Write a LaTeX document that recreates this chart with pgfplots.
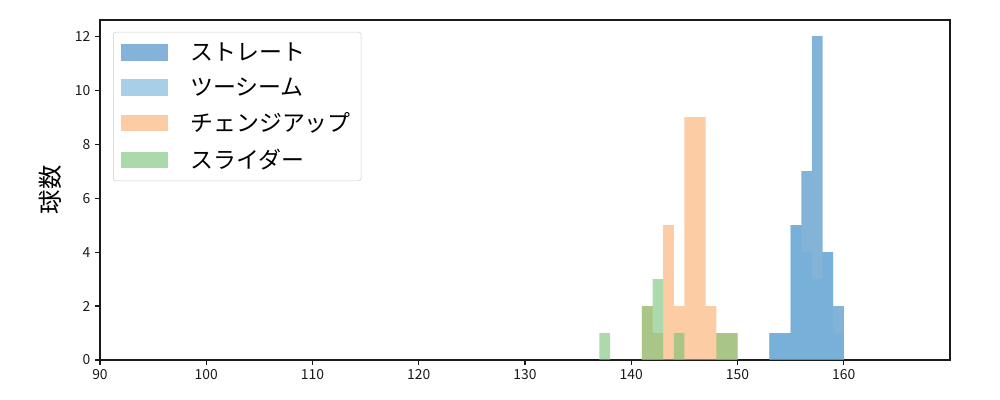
\documentclass[border=0pt]{standalone}
\usepackage{fontspec}
\setmainfont{Noto Sans CJK JP}
\usepackage{pgfplots}
\pgfplotsset{compat=1.18}

% colours: base colours drawn at 60% opacity
\definecolor{cStraight}{RGB}{50,128,190}
\definecolor{cTwoSeam}{RGB}{111,175,217}
\definecolor{cChange}{RGB}{250,170,105}
\definecolor{cSlider}{RGB}{117,193,117}
\definecolor{axgray}{RGB}{26,26,26}

\begin{document}
\begin{tikzpicture}
% 1 px of the reference = 0.72pt
\path[use as bounding box] (-72pt,-28.8pt) rectangle (648pt,259.2pt);
\begin{axis}[
  at={(0,0)}, anchor=south west,
  scale only axis,
  width=612pt, height=244.8pt,
  xmin=90, xmax=170, ymin=0, ymax=12.6,
  xtick={90,100,...,160},
  ytick={0,2,...,12},
  tick align=outside,
  tick pos=left,
  major tick length=3.5pt,
  every tick/.style={axgray, line width=0.8pt},
  axis line style={axgray, line width=0.8pt},
  tick label style={font=\fontsize{10}{12}\selectfont, text=axgray},
  /pgf/number format/assume math mode=true,
  ylabel={球数},
  ylabel style={font=\fontsize{17.5}{20}\selectfont, at={(axis description cs:-0.04,0.5)}},
  legend cell align=left,
  legend style={
    at={(0.0153,0.965)}, anchor=north west,
    draw=black!20, rounded corners=2pt,
    font=\fontsize{16.5}{19}\selectfont,
    inner xsep=5.5pt, inner ysep=5.5pt,
    row sep=7pt,
  },
  legend image code/.code={
    \fill[#1, sharp corners] (0pt,-5.8pt) rectangle (34pt,5.8pt);
  },
]
\addplot[ybar interval, fill=cStraight, fill opacity=0.6, draw=none]
coordinates {(153,1)(154,1)(155,5)(156,7)(157,12)(158,4)(159,2)(160,0)};
\addlegendentry{\hspace{14pt}ストレート}

\addplot[ybar interval, fill=cTwoSeam, fill opacity=0.6, draw=none]
coordinates {(153,1)(154,1)(155,5)(156,4)(157,3)(158,4)(159,1)(160,0)};
\addlegendentry{\hspace{14pt}ツーシーム}

\addplot[ybar interval, fill=cChange, fill opacity=0.6, draw=none]
coordinates {(141,2)(142,1)(143,5)(144,2)(145,9)(146,9)(147,2)(148,1)(149,1)(150,0)};
\addlegendentry{\hspace{14pt}チェンジアップ}

\addplot[ybar interval, fill=cSlider, fill opacity=0.6, draw=none]
coordinates {(137,1)(138,0)(141,2)(142,3)(143,0)(144,1)(145,0)(148,1)(149,1)(150,0)};
\addlegendentry{\hspace{14pt}スライダー}
\end{axis}
\end{tikzpicture}
\end{document}
